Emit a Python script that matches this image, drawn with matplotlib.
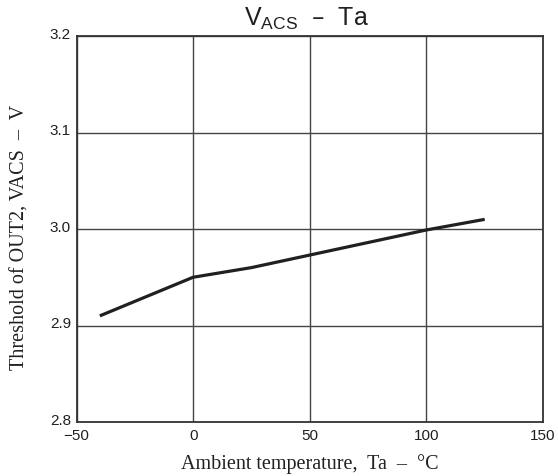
import matplotlib.pyplot as plt
import matplotlib.transforms as mtransforms

# data
temps = [-40, 0, 25, 50, 75, 100, 125]
vacs = [2.91, 2.95, 2.96, 2.973, 2.986, 2.999, 3.01]
x_ticks = [-50, 0, 50, 100, 150]
x_tick_labels = ['\u221250', '0', '50', '100', '150']
y_ticks = [2.8, 2.9, 3.0, 3.1, 3.2]
y_tick_labels = ['2.8', '2.9', '3.0', '3.1', '3.2']

fig = plt.figure(figsize=(5.58, 4.77), dpi=100)
ax = fig.add_axes([76.5 / 558, 1 - 423 / 477, (543 - 76.5) / 558, (423 - 37) / 477])

ax.plot(temps, vacs, color='#231f20', lw=2.3, solid_capstyle='butt')

ax.set_xlim(-50, 150)
ax.set_ylim(2.8, 3.2)
ax.set_xticks(x_ticks)
ax.set_xticklabels(x_tick_labels, fontsize=11, family='Liberation Sans', color='#231f20')
ax.set_yticks(y_ticks)
ax.set_yticklabels(y_tick_labels, fontsize=11, family='Liberation Sans', color='#231f20')
ax.tick_params(axis='x', length=0, pad=4)
ax.tick_params(axis='y', length=0, pad=4)
# y tick labels sit a little above their grid lines
shift = mtransforms.ScaledTranslation(0, 4 / 100, fig.dpi_scale_trans)
for lab in ax.get_yticklabels():
    lab.set_transform(lab.get_transform() + shift)

ax.grid(True, color='#444444', lw=1.0)
for s in ax.spines.values():
    s.set_color('#333333')
    s.set_linewidth(1.3)

ax.set_xlabel('Ambient temperature,  Ta  \u2013  \u00b0C', family='Liberation Serif',
              fontsize=14.5, color='#231f20', labelpad=8)
ax.set_ylabel('Threshold of OUT2, VACS  \u2013  V', family='Liberation Serif',
              fontsize=14.5, color='#231f20')
ax.yaxis.set_label_coords(-0.1, 0.48)

fig.text(306 / 558, 1 - 19 / 477, 'V$_{\\mathregular{ACS}}$  \u2013  Ta',
         ha='center', va='center', fontsize=18, family='Liberation Sans', color='#231f20')

fig.savefig('out.png', dpi=100)
